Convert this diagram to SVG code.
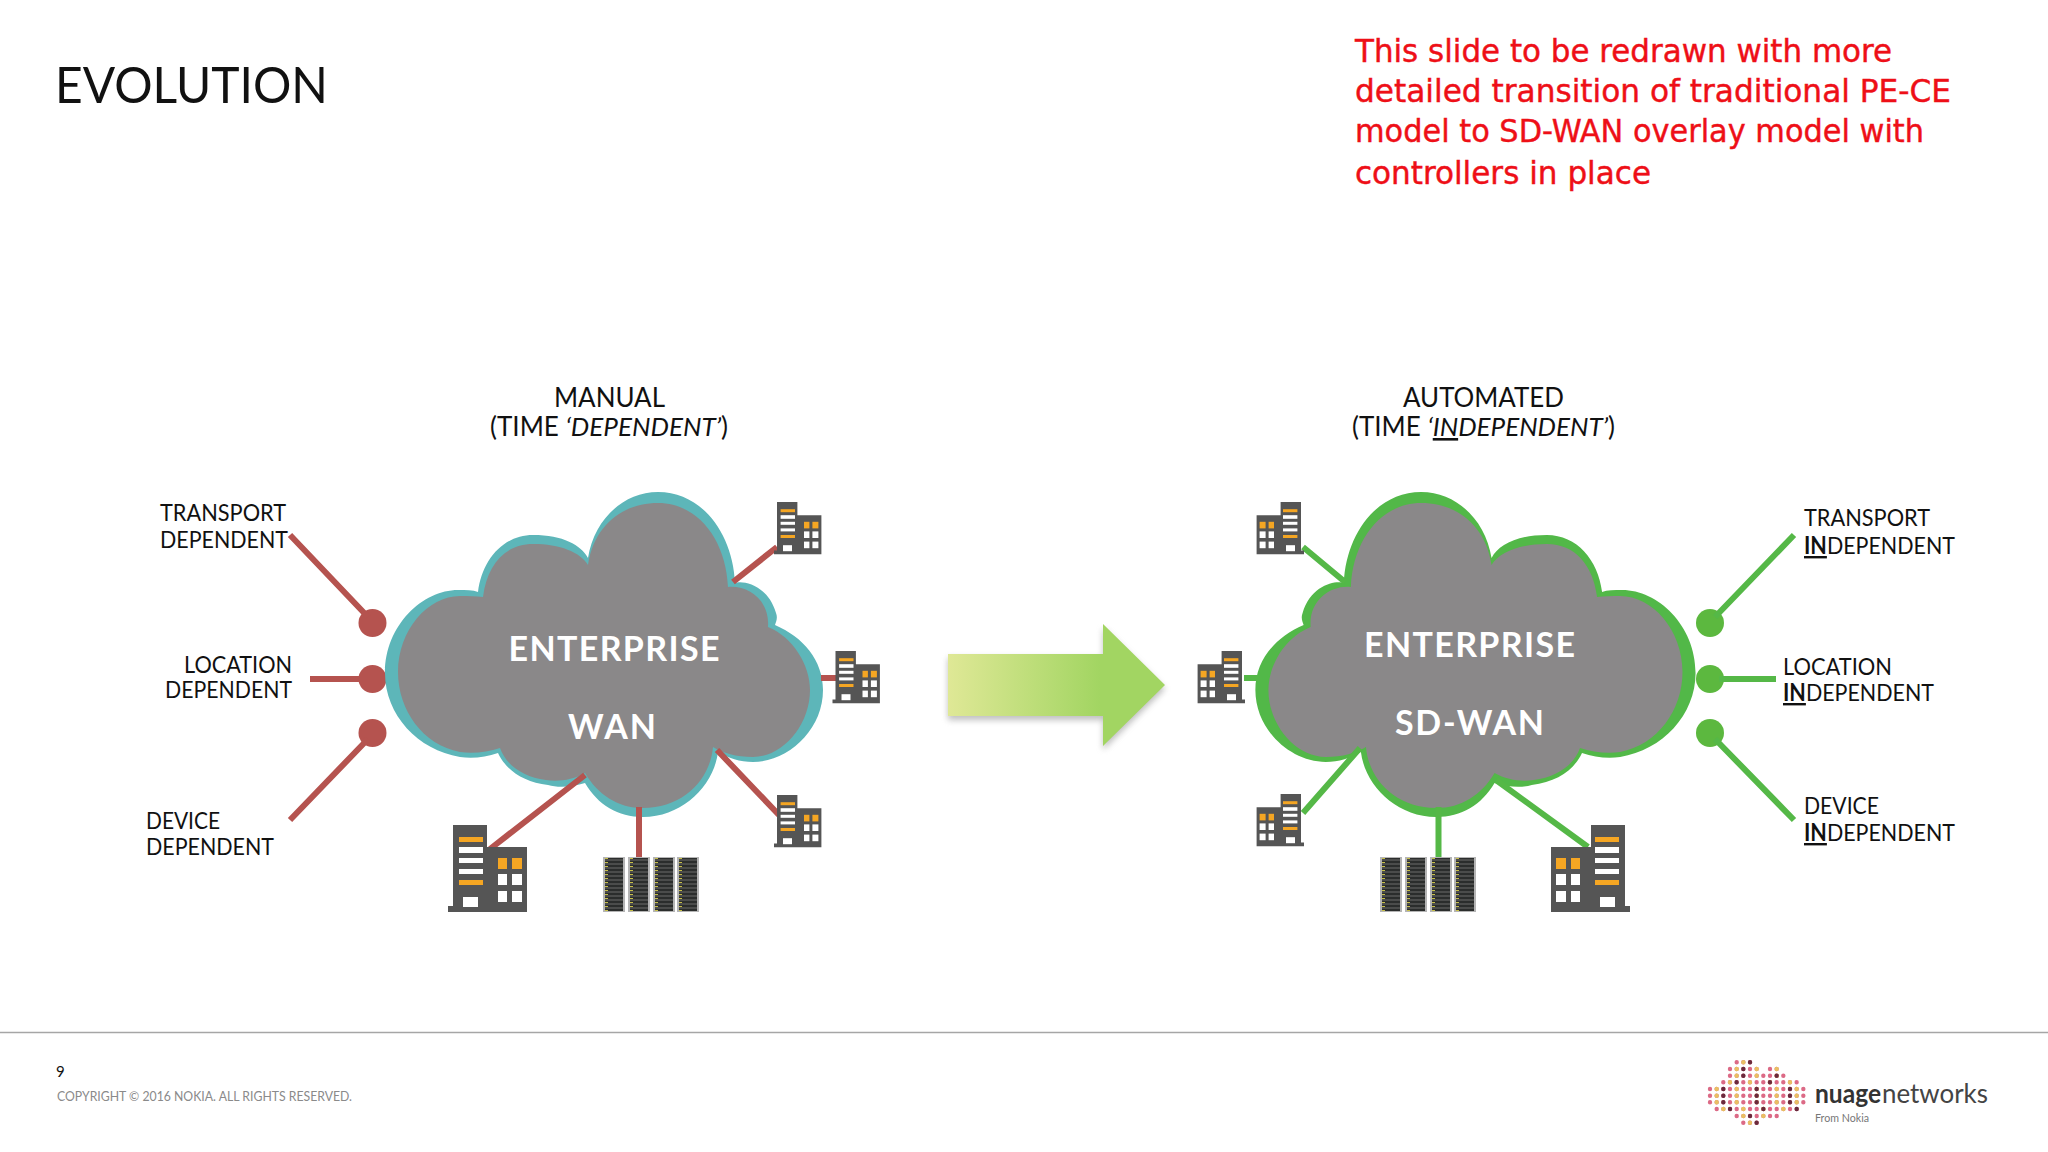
<svg xmlns="http://www.w3.org/2000/svg" xmlns:xlink="http://www.w3.org/1999/xlink" width="2048" height="1152" viewBox="0 0 2048 1152">
<style>
text{font-family:"Lato","Open Sans","Liberation Sans",sans-serif;fill:#111}
.lab{font-size:24px}
.head{font-size:26px}
.cl{font-size:34px;font-weight:700;fill:#fff}
.red{font-family:"DejaVu Sans Condensed","DejaVu Sans",sans-serif;font-size:32px;fill:#ee0f17;stroke:#ee0f17;stroke-width:.4px}
.rc{stroke:#b5534f;stroke-width:6;fill:none}
.gc{stroke:#55b847;stroke-width:6;fill:none}
.rd{fill:#b5534f}
.gd{fill:#5cb83f}
.b{font-weight:700}
.u{text-decoration:underline;text-decoration-thickness:2.5px}
</style>
<defs>
<linearGradient id="ag" x1="0" x2="1" y1="0" y2="0">
<stop offset="0" stop-color="#dfe896"/><stop offset="0.7" stop-color="#a2d562"/><stop offset="1" stop-color="#a2d562"/>
</linearGradient>
<filter id="sh" x="-10%" y="-10%" width="120%" height="125%"><feGaussianBlur stdDeviation="3"/></filter>
<filter id="bl" x="-5%" y="-5%" width="110%" height="110%"><feGaussianBlur stdDeviation=".5"/></filter>
<path id="cloudOuter" d="M590 558C596 520 625 492 660 492C705 492 735 535 737 583C745 580 770 585 778 613C780 618 778 622 777 625C805 637 825 660 825 690C825 730 790 762 755 762C742 762 730 758 720 752C716 785 685 817 645 817C620 817 600 805 587 783C575 787 560 788 550 785C525 782 508 770 500 753C488 757 475 759 462 757C420 750 387 715 387 673C387 625 425 590 460 590C468 590 475 590 480 592C484 560 505 535 535 535C565 535 583 545 590 558Z"/>
<path id="cloudInner" d="M590 565C596 525 625 503 660 503C700 503 728 540 730 587C750 585 772 600 770 627C795 637 812 665 812 690C812 725 785 757 755 757C738 757 725 753 715 747C712 780 685 808 645 808C620 808 600 795 587 773C575 780 560 782 548 780C525 777 508 765 502 748C490 752 475 754 462 752C425 745 400 710 400 672C400 630 430 596 462 596C470 596 478 596 485 597C489 565 507 544 535 544C562 544 582 552 590 565Z"/>
<g id="bldg">
<path fill="#555" d="M5 0H39V22H79V87H0V81H5Z"/>
<g fill="#f5a623"><rect x="11" y="12" width="24" height="5"/><rect x="11" y="55" width="24" height="5"/><rect x="50" y="33" width="9" height="11"/><rect x="64" y="33" width="10" height="11"/></g>
<g fill="#fff"><rect x="11" y="22" width="24" height="6"/><rect x="11" y="33" width="24" height="5"/><rect x="11" y="44" width="24" height="5"/><rect x="15" y="72" width="15" height="10"/><rect x="50" y="49" width="9" height="11"/><rect x="64" y="49" width="10" height="11"/><rect x="50" y="66" width="9" height="11"/><rect x="64" y="66" width="10" height="11"/></g>
</g>
<pattern id="rk" width="22" height="4" patternUnits="userSpaceOnUse">
<rect width="22" height="4" fill="#2b2d2c"/><rect y="2.6" width="22" height=".8" fill="#7a7a7a"/><rect x="2" y="1" width="3" height="1" fill="#c8c048"/>
</pattern>
<g id="rackCol"><rect width="22" height="55" fill="#b5b5b5"/><rect x="2" y="1" width="18" height="53" fill="url(#rk)"/></g>
<g id="rack"><use xlink:href="#rackCol"/><use xlink:href="#rackCol" x="25"/><use xlink:href="#rackCol" x="50"/><use xlink:href="#rackCol" x="74"/></g>
<path id="dots" d="M1736.7 1062.3H1750.1M1730 1069H1756.8M1770 1069H1776.8M1730 1075.7H1783.4M1723.3 1082.3H1796.8M1710 1089H1803.4M1710 1095.7H1803.4M1710 1102.3H1803.4M1716.7 1109H1796.8M1736.7 1116H1776.8M1743.3 1122.7H1756.8" fill="none" stroke-linecap="round" stroke-width="4.4"/>
</defs>
<rect width="2048" height="1152" fill="#fff"/>
<text x="55" y="103" font-size="50" textLength="273" lengthAdjust="spacingAndGlyphs">EVOLUTION</text>
<g id="note">
<text class="red" x="1355" y="62" textLength="537" lengthAdjust="spacingAndGlyphs">This slide to be redrawn with more</text>
<text class="red" x="1355" y="102" textLength="596" lengthAdjust="spacingAndGlyphs">detailed transition of traditional PE-CE</text>
<text class="red" x="1355" y="142" textLength="569" lengthAdjust="spacingAndGlyphs">model to SD-WAN overlay model with</text>
<text class="red" x="1355" y="184" textLength="296" lengthAdjust="spacingAndGlyphs">controllers in place</text>
</g>
<g id="heading-manual">
<text class="head" x="554" y="407" textLength="111" lengthAdjust="spacingAndGlyphs">MANUAL</text>
<text class="head" x="490" y="436" textLength="238" lengthAdjust="spacingAndGlyphs">(TIME <tspan font-style="italic">‘DEPENDENT’</tspan>)</text>
</g>
<g id="heading-automated">
<text class="head" x="1403" y="407" textLength="161" lengthAdjust="spacingAndGlyphs">AUTOMATED</text>
<text class="head" x="1352" y="436" textLength="263" lengthAdjust="spacingAndGlyphs">(TIME <tspan font-style="italic">‘<tspan class="u">IN</tspan>DEPENDENT’</tspan>)</text>
</g>
<g id="dots-left"><circle class="rd" cx="372.5" cy="623" r="14"/><circle class="rd" cx="372.5" cy="679" r="14"/><circle class="rd" cx="372.5" cy="733" r="14"/></g>
<g id="dots-right"><circle class="gd" cx="1710" cy="623" r="14"/><circle class="gd" cx="1710" cy="679" r="14"/><circle class="gd" cx="1710" cy="733" r="14"/></g>
<g id="cloud-wan">
<use xlink:href="#cloudOuter" fill="#5db6b9" transform="translate(-2 0)"/>
<use xlink:href="#cloudInner" fill="#8a8889" transform="translate(-2 0)"/>
<text class="cl" x="508.5" y="661" textLength="211">ENTERPRISE</text>
<text class="cl" x="568" y="739" textLength="88">WAN</text>
</g>
<g id="cloud-sdwan">
<use xlink:href="#cloudOuter" fill="#52b848" transform="matrix(-1.005 0 0 1 2084.5 0)"/>
<use xlink:href="#cloudInner" fill="#8a8889" transform="matrix(-1.005 0 0 1 2084.5 0)"/>
<text class="cl" x="1364" y="657" textLength="211">ENTERPRISE</text>
<text class="cl" x="1395" y="735" textLength="149">SD-WAN</text>
</g>
<g id="connectors">
<path class="rc" d="M290 535L368 617M310 679H362M290 820L368 739M733 582L777 547M821 678H838M717 750L779 815M639 807V858M585 775L490 849"/>
<path class="gc" d="M1794 535L1715 617M1776 679H1719M1794 820L1715 739M1303 547L1345 582M1244 678H1260M1303 813L1360 748M1438.5 807V858M1496 780L1588 847"/>
</g>
<g id="bldg-l1"><use xlink:href="#bldg" transform="translate(774 502) scale(.6)"/></g>
<g id="bldg-l2"><use xlink:href="#bldg" transform="translate(832.5 651) scale(.6)"/></g>
<g id="bldg-l3"><use xlink:href="#bldg" transform="translate(774 795) scale(.6)"/></g>
<g id="bldg-l4"><use xlink:href="#bldg" transform="translate(448 825)"/></g>
<g id="rack-l"><use xlink:href="#rack" transform="translate(603 857)"/></g>
<g id="bldg-r1"><use xlink:href="#bldg" transform="translate(1304 502) scale(-.6 .6)"/></g>
<g id="bldg-r2"><use xlink:href="#bldg" transform="translate(1245 651) scale(-.6 .6)"/></g>
<g id="bldg-r3"><use xlink:href="#bldg" transform="translate(1304 794) scale(-.6 .6)"/></g>
<g id="bldg-r4"><use xlink:href="#bldg" transform="translate(1630 825) scale(-1 1)"/></g>
<g id="rack-r"><use xlink:href="#rack" transform="translate(1380 857)"/></g>
<g id="arrow">
<path d="M948 654H1103V624L1165 685L1103 746V716H948Z" fill="#8a8a8a" opacity=".55" filter="url(#sh)" transform="translate(0 4)"/>
<path d="M948 654H1103V624L1165 685L1103 746V716H948Z" fill="url(#ag)"/>
</g>
<g id="labels-left">
<text class="lab" x="160" y="521" textLength="126" lengthAdjust="spacingAndGlyphs">TRANSPORT</text>
<text class="lab" x="160" y="548" textLength="128" lengthAdjust="spacingAndGlyphs">DEPENDENT</text>
<text class="lab" x="184" y="673" textLength="108" lengthAdjust="spacingAndGlyphs">LOCATION</text>
<text class="lab" x="165" y="698" textLength="127" lengthAdjust="spacingAndGlyphs">DEPENDENT</text>
<text class="lab" x="146" y="829" textLength="74" lengthAdjust="spacingAndGlyphs">DEVICE</text>
<text class="lab" x="146" y="855" textLength="128" lengthAdjust="spacingAndGlyphs">DEPENDENT</text>
</g>
<g id="labels-right">
<text class="lab" x="1804" y="526" textLength="126" lengthAdjust="spacingAndGlyphs">TRANSPORT</text>
<text class="lab" x="1804" y="554" textLength="151" lengthAdjust="spacingAndGlyphs"><tspan class="b u">IN</tspan>DEPENDENT</text>
<text class="lab" x="1783" y="675" textLength="109" lengthAdjust="spacingAndGlyphs">LOCATION</text>
<text class="lab" x="1783" y="701" textLength="151" lengthAdjust="spacingAndGlyphs"><tspan class="b u">IN</tspan>DEPENDENT</text>
<text class="lab" x="1804" y="814" textLength="75" lengthAdjust="spacingAndGlyphs">DEVICE</text>
<text class="lab" x="1804" y="841" textLength="151" lengthAdjust="spacingAndGlyphs"><tspan class="b u">IN</tspan>DEPENDENT</text>
</g>
<g id="footer">
<path d="M0 1032.5H2048" stroke="#a6a6a6" stroke-width="1.5"/>
<text x="56" y="1077" font-size="15">9</text>
<text x="57" y="1101" font-size="13" style="fill:#8a8a8a" textLength="295" lengthAdjust="spacingAndGlyphs">COPYRIGHT © 2016 NOKIA. ALL RIGHTS RESERVED.</text>
</g>
<g id="logo">
<g filter="url(#bl)">
<use xlink:href="#dots" stroke="#dc6a86" stroke-dasharray="0 6.667"/>
<use xlink:href="#dots" stroke="#e9c063" stroke-dasharray="0 20" stroke-dashoffset="-6.667"/>
<use xlink:href="#dots" stroke="#6a2c3c" stroke-dasharray="0 33.33" stroke-dashoffset="-13.33"/>
</g>
<text x="1815" y="1103" font-size="27" class="b" textLength="66" lengthAdjust="spacingAndGlyphs" style="fill:#333">nuage</text>
<text x="1882" y="1103" font-size="27" textLength="106" lengthAdjust="spacingAndGlyphs" style="fill:#444">networks</text>
<text x="1815" y="1122" font-size="11" textLength="54" lengthAdjust="spacingAndGlyphs" style="fill:#777">From Nokia</text>
</g>
</svg>
